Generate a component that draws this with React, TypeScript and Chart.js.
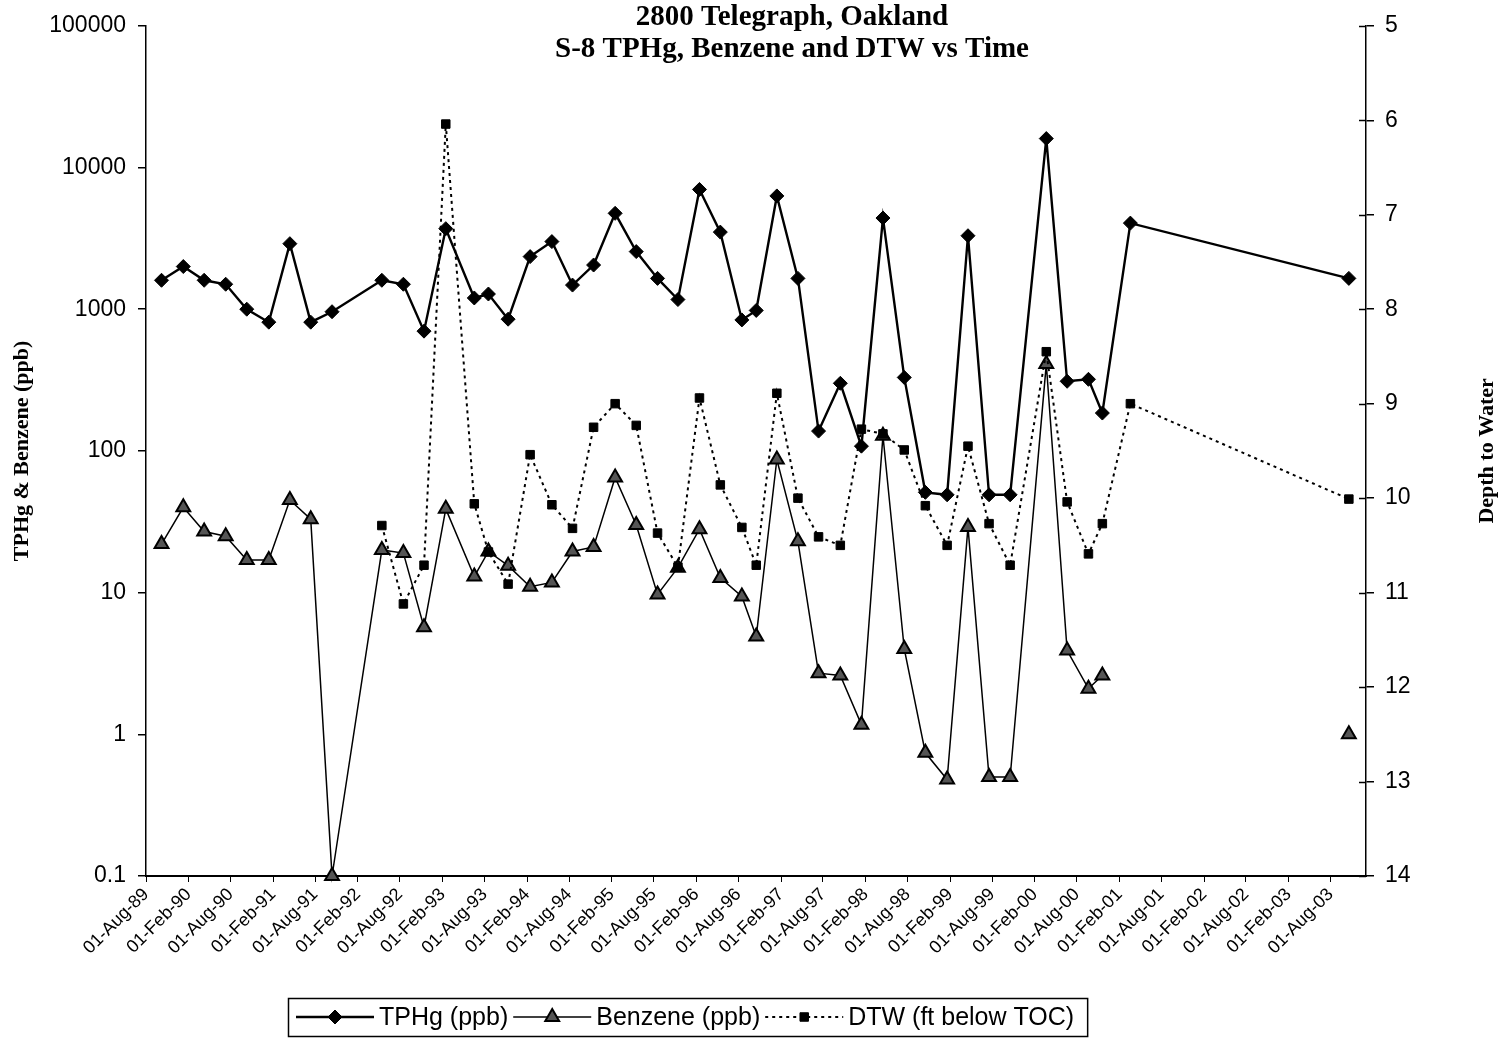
import React, { useEffect, useRef } from 'react';
import { Chart, registerables } from 'chart.js';

Chart.register(...registerables);

// ---- data ----
const sampleDates: string[] = [
  '1989-10-07', '1990-01-09', '1990-04-09', '1990-07-11', '1990-10-10', '1991-01-13', '1991-04-14', '1991-07-13', '1991-10-13',
  '1992-05-15', '1992-08-16', '1992-11-13', '1993-02-15', '1993-06-18', '1993-08-18', '1993-11-11',
  '1994-02-14', '1994-05-19', '1994-08-16', '1994-11-15', '1995-02-16', '1995-05-18', '1995-08-18', '1995-11-14',
  '1996-02-15', '1996-05-15', '1996-08-16', '1996-10-17', '1997-01-14', '1997-04-15', '1997-07-13', '1997-10-15',
  '1998-01-14', '1998-04-17', '1998-07-18', '1998-10-17', '1999-01-19', '1999-04-19', '1999-07-19', '1999-10-18',
  '2000-03-22', '2000-06-20', '2000-09-20', '2000-11-19', '2001-03-20', '2003-10-19',
];

const tphgPpb: (number | null)[] = [
  1600, 2000, 1600, 1500, 1000, 810, 2900, 810, 960,
  1600, 1500, 700, 3700, 1200, 1280, 850,
  2350, 3000, 1480, 2050, 4750, 2550, 1650, 1170,
  7000, 3500, 840, 980, 6300, 1650, 138, 300,
  108, 4400, 330, 51, 49, 3300, 49, 49,
  16000, 310, 320, 185, 4050, 1650,
];

const benzenePpb: (number | null)[] = [
  22, 40, 27, 25, 17, 17, 45, 33, 0.1,
  20, 19, 5.7, 39, 13, 19.5, 15.5,
  11, 11.8, 19.5, 21, 65, 30, 9.7, 15,
  28, 12.7, 9.4, 4.9, 87, 23, 2.7, 2.6,
  1.17, 128, 4, 0.74, 0.48, 29, 0.5, 0.5,
  410, 3.9, 2.1, 2.6, null, 1.0,
];

const dtwFt: (number | null)[] = [
  null, null, null, null, null, null, null, null, null,
  10.29, 11.12, 10.71, 6.04, 10.06, 10.57, 10.91,
  9.54, 10.07, 10.32, 9.25, 9.0, 9.23, 10.37, 10.73,
  8.94, 9.86, 10.31, 10.71, 8.89, 10.0, 10.41, 10.5,
  9.27, 9.32, 9.49, 10.08, 10.5, 9.45, 10.27, 10.71,
  8.45, 10.04, 10.59, 10.27, 9.0, 10.01,
];

const seriesLabels = ['TPHg (ppb)', 'Benzene (ppb)', 'DTW (ft below TOC)'];
const chartTitle = ['2800 Telegraph, Oakland', 'S-8 TPHg, Benzene and DTW vs Time'];
const leftAxisTitle = 'TPHg & Benzene (ppb)';
const rightAxisTitle = 'Depth to Water';
const concentrationTicks = [0.1, 1, 10, 100, 1000, 10000, 100000];
const depthTicks = [5, 6, 7, 8, 9, 10, 11, 12, 13, 14];
const axisStart = '1989-08-01';
const axisEnd = '2004-01-01';
const lastTickDate = '2003-08-01';
const tickMonths = [1, 7]; // Feb, Aug
const monthNames = ['Jan', 'Feb', 'Mar', 'Apr', 'May', 'Jun', 'Jul', 'Aug', 'Sep', 'Oct', 'Nov', 'Dec'];

const SANS = "'Liberation Sans', Arial, sans-serif";
const SERIF = "'Liberation Serif', 'Times New Roman', serif";

function toPoints(values: (number | null)[]) {
  return sampleDates.map((d, i) => ({ x: Date.parse(d), y: values[i] }));
}

function buildDateTicks(): number[] {
  const start = Date.parse(axisStart);
  const last = Date.parse(lastTickDate);
  const out: number[] = [];
  for (let y = 1989; y <= 2003; y++) {
    for (const m of tickMonths) {
      const v = Date.UTC(y, m, 1);
      if (v >= start && v <= last) out.push(v);
    }
  }
  return out;
}

function formatDate(v: number): string {
  const d = new Date(v);
  return `01-${monthNames[d.getUTCMonth()]}-${String(d.getUTCFullYear() % 100).padStart(2, '0')}`;
}

function drawMarker(ctx: CanvasRenderingContext2D, style: string, x: number, y: number, r: number) {
  ctx.beginPath();
  if (style === 'rectRot') {
    ctx.moveTo(x - r, y);
    ctx.lineTo(x, y - r);
    ctx.lineTo(x + r, y);
    ctx.lineTo(x, y + r);
    ctx.closePath();
  } else if (style === 'triangle') {
    let a = 0;
    ctx.moveTo(x + Math.sin(a) * r, y - Math.cos(a) * r);
    a += (2 * Math.PI) / 3;
    ctx.lineTo(x + Math.sin(a) * r, y - Math.cos(a) * r);
    a += (2 * Math.PI) / 3;
    ctx.lineTo(x + Math.sin(a) * r, y - Math.cos(a) * r);
    ctx.closePath();
  } else {
    const s = r * Math.SQRT1_2;
    ctx.rect(x - s, y - s, 2 * s, 2 * s);
  }
  ctx.fill();
  ctx.stroke();
}

const decorPlugin = {
  id: 'decor',
  afterDraw(chart: any) {
    const ctx: CanvasRenderingContext2D = chart.ctx;
    const area = chart.chartArea;
    ctx.save();
    ctx.fillStyle = '#000';
    ctx.strokeStyle = '#000';

    // title
    ctx.font = `bold 29px ${SERIF}`;
    ctx.textAlign = 'center';
    ctx.textBaseline = 'alphabetic';
    ctx.fillText(chartTitle[0], 792, 25);
    ctx.fillText(chartTitle[1], 792, 57);

    // axis titles
    ctx.font = `bold 22px ${SERIF}`;
    ctx.textBaseline = 'middle';
    ctx.save();
    ctx.translate(22, (area.top + area.bottom) / 2);
    ctx.rotate(-Math.PI / 2);
    ctx.fillText(leftAxisTitle, 0, 0);
    ctx.restore();
    ctx.save();
    ctx.translate(1487, (area.top + area.bottom) / 2);
    ctx.rotate(-Math.PI / 2);
    ctx.fillText(rightAxisTitle, 0, 0);
    ctx.restore();

    // inner half of right-axis cross ticks
    const y1 = chart.scales.y1;
    ctx.lineWidth = 1.5;
    for (const t of y1.ticks) {
      const py = Math.round(y1.getPixelForValue(t.value)) + 0.5;
      ctx.beginPath();
      ctx.moveTo(area.right - 7, py);
      ctx.lineTo(area.right, py);
      ctx.stroke();
    }

    // legend box
    ctx.font = `25px ${SANS}`;
    ctx.textAlign = 'left';
    ctx.textBaseline = 'middle';
    const boxLeft = 288;
    const boxTop = 998;
    const boxH = 38;
    const cy = boxTop + boxH / 2;
    let x = boxLeft + 8;
    chart.data.datasets.forEach((ds: any) => {
      const lineLen = 78;
      ctx.save();
      ctx.lineWidth = ds.borderWidth;
      ctx.setLineDash(ds.borderDash || []);
      ctx.beginPath();
      ctx.moveTo(x, cy);
      ctx.lineTo(x + lineLen, cy);
      ctx.stroke();
      ctx.setLineDash([]);
      ctx.fillStyle = ds.pointBackgroundColor;
      ctx.lineWidth = ds.pointBorderWidth;
      drawMarker(ctx, ds.pointStyle, x + lineLen / 2, cy, ds.pointRadius);
      ctx.restore();
      x += lineLen + 5;
      ctx.fillText(ds.label, x, cy + 1);
      x += ctx.measureText(ds.label).width + 5;
    });
    ctx.lineWidth = 1.5;
    ctx.strokeRect(boxLeft + 0.5, boxTop + 0.5, x + 8 - boxLeft, boxH);
    ctx.restore();
  },
};

export default function App() {
  const canvasRef = useRef<HTMLCanvasElement | null>(null);

  useEffect(() => {
    document.body.style.margin = '0';
    const canvas = canvasRef.current;
    if (!canvas) return;
    const dateTicks = buildDateTicks();

    const chart = new Chart(canvas, {
      type: 'line',
      data: {
        datasets: [
          {
            label: seriesLabels[0],
            data: toPoints(tphgPpb),
            yAxisID: 'y',
            borderColor: '#000',
            backgroundColor: '#000',
            borderWidth: 2.4,
            pointStyle: 'rectRot',
            pointRadius: 7,
            pointBorderWidth: 1,
            pointBackgroundColor: '#000',
            pointBorderColor: '#000',
            tension: 0,
            clip: false,
            order: 0,
          } as any,
          {
            label: seriesLabels[1],
            data: toPoints(benzenePpb),
            yAxisID: 'y',
            borderColor: '#000',
            backgroundColor: '#555',
            borderWidth: 1.5,
            pointStyle: 'triangle',
            pointRadius: 8,
            pointBorderWidth: 2,
            pointBackgroundColor: '#555',
            pointBorderColor: '#000',
            tension: 0,
            clip: false,
            order: 2,
          } as any,
          {
            label: seriesLabels[2],
            data: toPoints(dtwFt),
            yAxisID: 'y1',
            borderColor: '#000',
            backgroundColor: '#000',
            borderWidth: 2,
            borderDash: [3, 4],
            pointStyle: 'rect',
            pointRadius: 6,
            pointBorderWidth: 1,
            pointBackgroundColor: '#000',
            pointBorderColor: '#000',
            tension: 0,
            clip: false,
            order: 1,
          } as any,
        ],
      },
      options: {
        responsive: false,
        animation: false,
        devicePixelRatio: 1,
        layout: { padding: { top: 20, left: 0, right: 0, bottom: 0 } },
        plugins: {
          legend: { display: false },
          tooltip: { enabled: false },
          title: { display: false },
        },
        scales: {
          x: {
            type: 'linear',
            position: 'bottom',
            min: Date.parse(axisStart),
            max: Date.parse(axisEnd),
            afterBuildTicks: (s: any) => {
              s.ticks = dateTicks.map((v) => ({ value: v }));
            },
            afterFit: (s: any) => {
              s.height = 162;
            },
            ticks: {
              autoSkip: false,
              minRotation: 45,
              maxRotation: 45,
              padding: 2,
              color: '#000',
              font: { family: SANS, size: 18 },
              callback: (v: any) => formatDate(Number(v)),
            },
            grid: { drawOnChartArea: false, drawTicks: true, tickLength: 6, color: '#000' },
            border: { display: true, color: '#000', width: 2 },
          },
          y: {
            type: 'logarithmic',
            position: 'left',
            min: 0.1,
            max: 100000,
            afterBuildTicks: (s: any) => {
              s.ticks = concentrationTicks.map((v) => ({ value: v }));
            },
            afterFit: (s: any) => {
              s.width = 146;
            },
            ticks: {
              color: '#000',
              padding: 12,
              font: { family: SANS, size: 23 },
              callback: (v: any) => String(v),
            },
            grid: { drawOnChartArea: false, drawTicks: true, tickLength: 8, color: '#000', lineWidth: 1.5 },
            border: { display: true, color: '#000', width: 1.5 },
          },
          y1: {
            type: 'linear',
            position: 'right',
            reverse: true,
            min: 5,
            max: 14,
            afterBuildTicks: (s: any) => {
              s.ticks = depthTicks.map((v) => ({ value: v }));
            },
            afterFit: (s: any) => {
              s.width = 137;
            },
            ticks: {
              color: '#000',
              padding: 11,
              font: { family: SANS, size: 23 },
              callback: (v: any) => String(v),
            },
            grid: { drawOnChartArea: false, drawTicks: true, tickLength: 8, color: '#000', lineWidth: 1.5 },
            border: { display: true, color: '#000', width: 1.5 },
          },
        },
      } as any,
      plugins: [decorPlugin],
    });

    return () => chart.destroy();
  }, []);

  return (
    <div style={{ width: 1503, height: 1038, background: '#fff' }}>
      <canvas ref={canvasRef} width={1503} height={1038} style={{ display: 'block' }} />
    </div>
  );
}
